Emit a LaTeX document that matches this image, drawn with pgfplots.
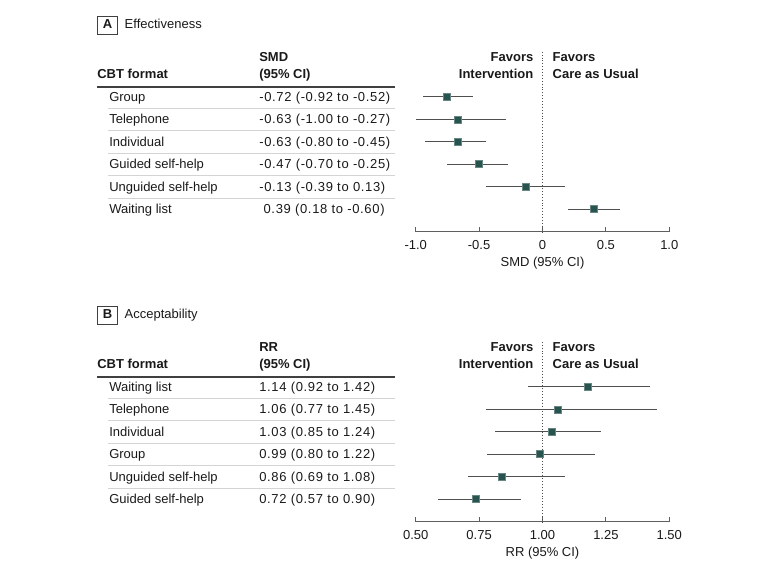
\documentclass[border=0pt]{standalone}
\usepackage{pgfplots}
\pgfplotsset{compat=1.18}
\usepackage{pgfplotstable}
\usepackage{fontspec}
\setmainfont{Liberation Sans}
\newfontfamily\numfont{Liberation Sans}[LetterSpace=5]
\definecolor{mk}{RGB}{40,84,80}
\definecolor{ci}{RGB}{80,80,80}
\definecolor{ax}{RGB}{95,95,95}
\definecolor{sep}{RGB}{212,212,212}
\definecolor{txt}{RGB}{25,25,25}

\pgfplotstableread{
row est lo hi
-1 -0.754 -0.943 -0.546
-2 -0.670 -1.000 -0.286
-3 -0.670 -0.925 -0.444
-4 -0.499 -0.752 -0.273
-5 -0.134 -0.444 0.177
-6 0.405 0.203 0.610
}\dataA
\pgfplotstableread{
row est lo hi
-1 1.177 0.944 1.423
-2 1.060 0.777 1.453
-3 1.035 0.811 1.229
-4 0.991 0.782 1.206
-5 0.838 0.706 1.088
-6 0.735 0.586 0.915
}\dataB

\pgfplotsset{forest/.style={
  scale only axis, width=253.6pt, height=179.9pt, anchor=north west,
  ymin=-7, ymax=1, axis y line=none, axis x line=bottom,
  x axis line style={-, ax, line width=1pt},
  xtick align=inside, major tick length=4.5pt,
  x tick style={ax, line width=1pt},
  xticklabel style={anchor=base, yshift=-17.6pt, text=txt},
  xlabel style={anchor=base, at={(axis description cs:0.5,0)}, yshift=-35pt, text=txt},
  clip=false,
  /pgf/number format/assume math mode=true,
}}

\begin{document}
\fontsize{13pt}{15pt}\selectfont
\begin{tikzpicture}[every node/.style={inner sep=0pt, outer sep=0pt, text=txt}]
\useasboundingbox (0pt,0pt) rectangle (780pt,-575pt);

% ---------- Panel A table ----------
\draw[black!75, line width=0.8pt] (97.7pt,-16pt) rectangle (117.3pt,-34pt);
\node[anchor=base] at (107.5pt,-28.6pt) {\bfseries A};
\node[anchor=base west] at (124.7pt,-28.6pt) {Effectiveness};
\node[anchor=base west] at (97.3pt,-78.3pt) {\bfseries CBT format};
\node[anchor=base west] at (259.3pt,-61.8pt) {\bfseries SMD};
\node[anchor=base west] at (259.3pt,-78.3pt) {\bfseries (95\% CI)};
\draw[line width=2pt, black!75] (97.3pt,-86.7pt) -- (395pt,-86.7pt);
\foreach \yy in {108.0,130.5,153.0,175.5,198.0}
  \draw[sep, line width=0.8pt] (108.3pt,-\yy pt) -- (395pt,-\yy pt);
\foreach \yy/\lab/\val in {101.2/Group/-0.72 (-0.92 to -0.52),
                           123.7/Telephone/-0.63 (-1.00 to -0.27),
                           146.2/Individual/-0.63 (-0.80 to -0.45),
                           168.7/Guided self-help/-0.47 (-0.70 to -0.25),
                           191.1/Unguided self-help/-0.13 (-0.39 to 0.13),
                           213.6/Waiting list/\phantom{-}0.39 (0.18 to -0.60)}{
  \node[anchor=base west] at (109.3pt,-\yy pt) {\lab};
  \node[anchor=base west] at (259.3pt,-\yy pt) {\numfont\val};
}
\node[anchor=base east] at (533.3pt,-61.8pt) {\bfseries Favors};
\node[anchor=base east] at (533.3pt,-78.3pt) {\bfseries Intervention};
\node[anchor=base west] at (552.7pt,-61.8pt) {\bfseries Favors};
\node[anchor=base west] at (552.7pt,-78.3pt) {\bfseries Care as Usual};

\begin{axis}[forest, at={(415.7pt,-51.8pt)},
  xmin=-1, xmax=1,
  xtick={-1,-0.5,0,0.5,1}, xticklabels={-1.0,-0.5,0,0.5,1.0},
  xlabel={SMD (95\% CI)}]
\draw[dotted, line width=0.9pt, black!70] (axis cs:0,1) -- (axis cs:0,-7);
\addplot[draw=none, mark=none, error bars/.cd, x dir=both, x explicit, error mark=none,
  error bar style={draw=ci, line width=1pt}]
  table[x=est, y=row, x error plus expr=\thisrow{hi}-\thisrow{est},
        x error minus expr=\thisrow{est}-\thisrow{lo}] {\dataA};
\addplot[only marks, mark=square*, mark size=3.5pt,
  mark options={fill=mk, draw=mk!70!white, line width=0.5pt}]
  table[x=est, y=row] {\dataA};
\end{axis}

% ---------- Panel B table ----------
\draw[black!75, line width=0.8pt] (97.7pt,-306pt) rectangle (117.3pt,-324pt);
\node[anchor=base] at (107.5pt,-318.6pt) {\bfseries B};
\node[anchor=base west] at (124.7pt,-318.6pt) {Acceptability};
\node[anchor=base west] at (97.3pt,-368.3pt) {\bfseries CBT format};
\node[anchor=base west] at (259.3pt,-351.8pt) {\bfseries RR};
\node[anchor=base west] at (259.3pt,-368.3pt) {\bfseries (95\% CI)};
\draw[line width=2pt, black!75] (97.3pt,-376.7pt) -- (395pt,-376.7pt);
\foreach \yy in {398.0,420.5,443.0,465.5,488.0}
  \draw[sep, line width=0.8pt] (108.3pt,-\yy pt) -- (395pt,-\yy pt);
\foreach \yy/\lab/\val in {391.2/Waiting list/1.14 (0.92 to 1.42),
                           413.7/Telephone/1.06 (0.77 to 1.45),
                           436.2/Individual/1.03 (0.85 to 1.24),
                           458.7/Group/0.99 (0.80 to 1.22),
                           481.1/Unguided self-help/0.86 (0.69 to 1.08),
                           503.6/Guided self-help/0.72 (0.57 to 0.90)}{
  \node[anchor=base west] at (109.3pt,-\yy pt) {\lab};
  \node[anchor=base west] at (259.3pt,-\yy pt) {\numfont\val};
}
\node[anchor=base east] at (533.3pt,-351.8pt) {\bfseries Favors};
\node[anchor=base east] at (533.3pt,-368.3pt) {\bfseries Intervention};
\node[anchor=base west] at (552.7pt,-351.8pt) {\bfseries Favors};
\node[anchor=base west] at (552.7pt,-368.3pt) {\bfseries Care as Usual};

\begin{axis}[forest, at={(415.7pt,-341.8pt)},
  xmin=0.5, xmax=1.5,
  xtick={0.5,0.75,1,1.25,1.5}, xticklabels={0.50,0.75,1.00,1.25,1.50},
  xlabel={RR (95\% CI)}]
\draw[dotted, line width=0.9pt, black!70] (axis cs:1,1) -- (axis cs:1,-7);
\addplot[draw=none, mark=none, error bars/.cd, x dir=both, x explicit, error mark=none,
  error bar style={draw=ci, line width=1pt}]
  table[x=est, y=row, x error plus expr=\thisrow{hi}-\thisrow{est},
        x error minus expr=\thisrow{est}-\thisrow{lo}] {\dataB};
\addplot[only marks, mark=square*, mark size=3.5pt,
  mark options={fill=mk, draw=mk!70!white, line width=0.5pt}]
  table[x=est, y=row] {\dataB};
\end{axis}
\end{tikzpicture}
\end{document}
